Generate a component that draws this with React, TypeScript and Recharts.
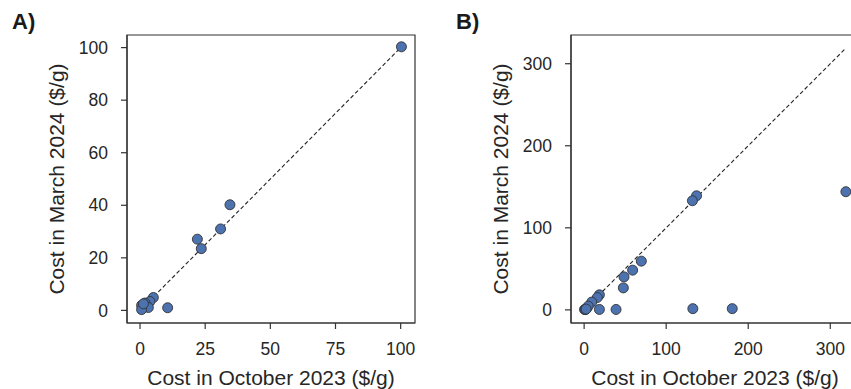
import React from "react";
import {
  ReferenceArea,
  ReferenceLine,
  Scatter,
  ScatterChart,
  XAxis,
  YAxis,
} from "recharts";

// Panel A: Oct 2023 vs Mar 2024 cost ($/g)
const A_OCT = [100.3, 34.5, 30.9, 22.0, 23.5, 10.6, 5.1, 3.8, 1.9, 0.6, 3.2, 0.6, 1.3];
const A_MAR = [100.3, 40.2, 31.0, 27.1, 23.5, 1.0, 4.9, 3.4, 2.8, 1.9, 1.1, 0.3, 2.5];
const A_XTICKS = [0, 25, 50, 75, 100];
const A_YTICKS = [0, 20, 40, 60, 80, 100];

// Panel B
const B_OCT = [319, 137, 132, 69.7, 59.1, 48.6, 47.8, 38.9, 18.6, 18.6, 16, 9.3, 132.5, 180.5, 3.2, 0.5, 1.5, 5, 2.5];
const B_MAR = [144, 139, 133, 59.4, 48.4, 40.2, 26.8, 0.5, 0.5, 18.3, 15, 9.5, 1.5, 1.5, 2, 0.5, 0.3, 4.5, 1];
const B_TICKS = [0, 100, 200, 300];

const INK = "#333333";
const DOT = "#4C72B0";
const FONT = "'Liberation Sans', Arial, sans-serif";

type PanelProps = {
  left: number;
  letter: string;
  letterX: number;
  xs: number[];
  ys: number[];
  xDomain: [number, number];
  yDomain: [number, number];
  xTicks: number[];
  yTicks: number[];
  lineMax: number;
  axisWidth: number;
  labelOffset: number;
  rightMargin: number;
};

function Dot(props: any) {
  const { cx, cy } = props;
  return <circle cx={cx} cy={cy} r={5} fill={DOT} stroke={INK} strokeWidth={0.9} />;
}

function Panel(p: PanelProps) {
  const data = p.xs.map((x, i) => ({ x, y: p.ys[i] }));
  const tick = { fontSize: 17.5, fill: "#262626", fontFamily: FONT };
  return (
    <div style={{ position: "absolute", left: p.left, top: 0 }}>
      <ScatterChart
        width={430}
        height={389}
        margin={{ top: 35, right: p.rightMargin, bottom: 0, left: 0 }}
      >
        <XAxis
          type="number"
          dataKey="x"
          domain={p.xDomain}
          ticks={p.xTicks}
          allowDataOverflow
          height={66}
          tickSize={6}
          tickMargin={14}
          stroke={INK}
          strokeWidth={1.2}
          tick={tick}
          label={{
            value: "Cost in October 2023 ($/g)",
            position: "insideBottom",
            offset: 4,
            style: { fontSize: 21, fill: "#262626", fontFamily: FONT },
          }}
        />
        <YAxis
          type="number"
          dataKey="y"
          domain={p.yDomain}
          ticks={p.yTicks}
          allowDataOverflow
          width={p.axisWidth}
          tickSize={6}
          tickMargin={13}
          stroke={INK}
          strokeWidth={1.2}
          tick={tick}
          label={{
            value: "Cost in March 2024 ($/g)",
            angle: -90,
            position: "insideLeft",
            offset: p.labelOffset,
            style: { fontSize: 21, fill: "#262626", fontFamily: FONT, textAnchor: "middle" },
          }}
        />
        <ReferenceArea
          x1={p.xDomain[0]}
          x2={p.xDomain[1]}
          y1={p.yDomain[0]}
          y2={p.yDomain[1]}
          fill="none"
          stroke={INK}
          strokeWidth={1.2}
        />
        <ReferenceLine
          segment={[
            { x: 0, y: 0 },
            { x: p.lineMax, y: p.lineMax },
          ]}
          stroke="#222"
          strokeWidth={1.1}
          strokeDasharray="4 2.5"
        />
        <Scatter data={data} shape={Dot} isAnimationActive={false} />
      </ScatterChart>
      <div
        style={{
          position: "absolute",
          left: p.letterX,
          top: 10,
          fontFamily: FONT,
          fontWeight: "bold",
          fontSize: 22,
          lineHeight: "24px",
          color: "#1a1a1a",
        }}
      >
        {p.letter}
      </div>
    </div>
  );
}

export default function App() {
  return (
    <div
      style={{
        position: "absolute",
        left: 0,
        top: 0,
        width: 851,
        height: 389,
        overflow: "hidden",
        background: "#fff",
      }}
    >
      <Panel
        left={0}
        letter="A)"
        letterX={12}
        xs={A_OCT}
        ys={A_MAR}
        xDomain={[-5.0, 105.5]}
        yDomain={[-4.8, 104.8]}
        xTicks={A_XTICKS}
        yTicks={A_YTICKS}
        lineMax={100.5}
        axisWidth={127}
        labelOffset={57}
        rightMargin={15}
      />
      <Panel
        left={430}
        letter="B)"
        letterX={26}
        xs={B_OCT}
        ys={B_MAR}
        xDomain={[-16, 335]}
        yDomain={[-16, 335]}
        xTicks={B_TICKS}
        yTicks={B_TICKS}
        lineMax={319}
        axisWidth={141}
        labelOffset={71}
        rightMargin={1}
      />
    </div>
  );
}
